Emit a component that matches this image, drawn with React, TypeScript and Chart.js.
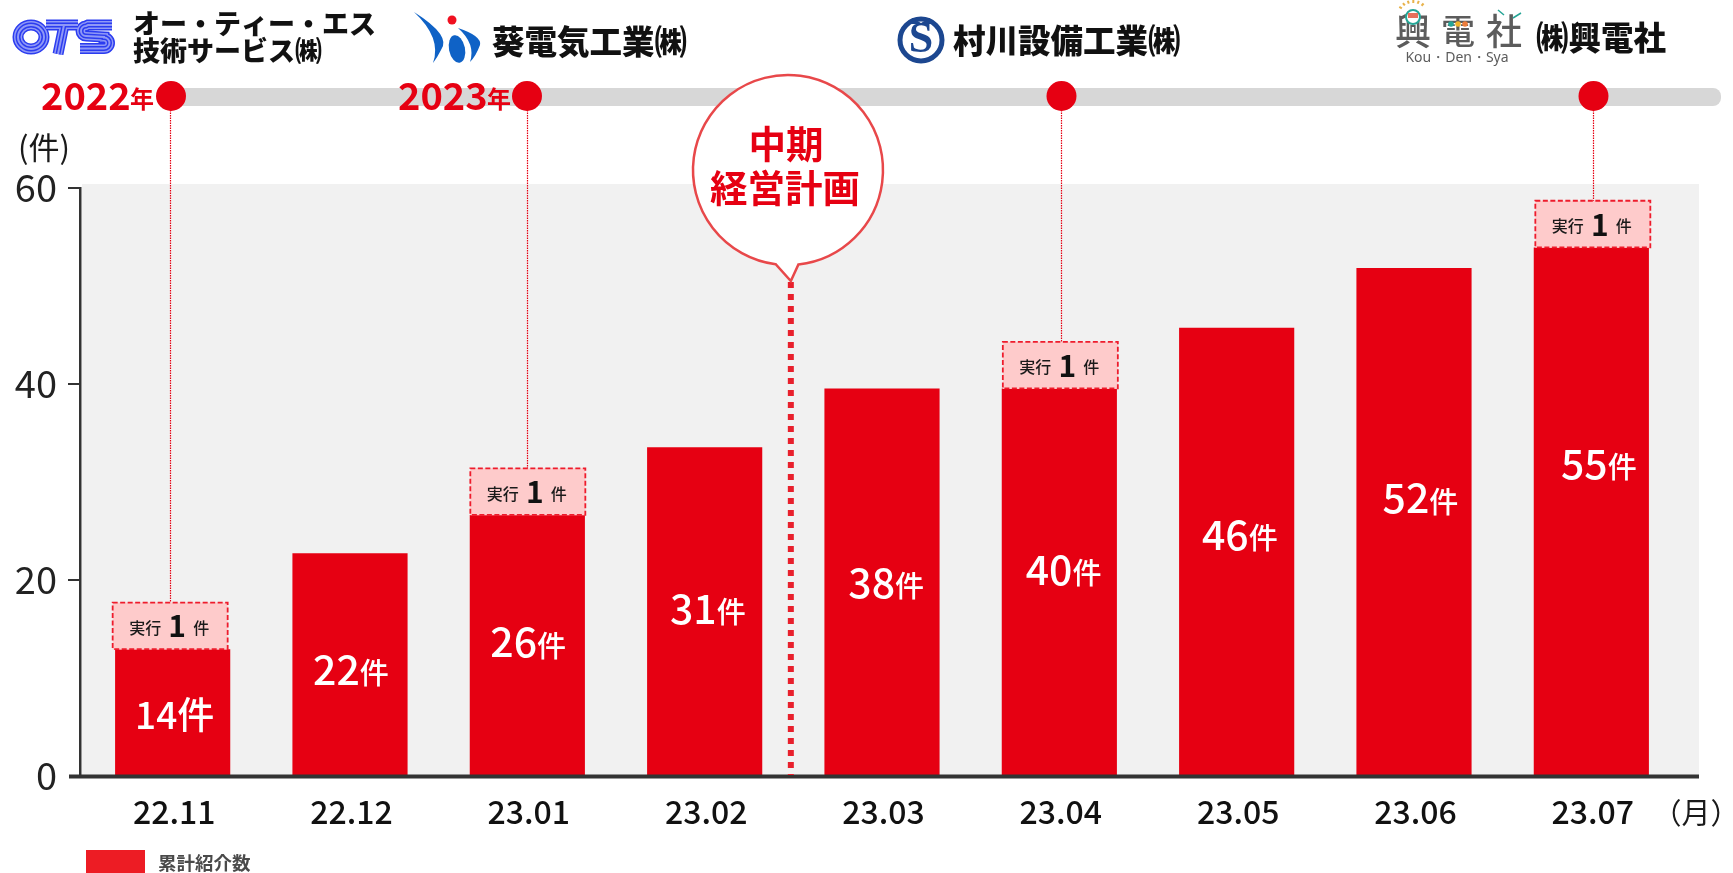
import React, { useEffect, useRef } from "react";
import { Chart, registerables } from "chart.js";

Chart.register(...registerables);

const categories = ["22.11", "22.12", "23.01", "23.02", "23.03", "23.04", "23.05", "23.06", "23.07"];
const cumulative = [12.9, 22.7, 26.6, 33.5, 39.5, 39.5, 45.7, 51.8, 53.9];
const executed = [4.8, 0, 4.8, 0, 0, 4.8, 0, 0, 4.8];
const barLabels = ["14", "22", "26", "31", "38", "40", "46", "52", "55"];
const yTicks = [0, 20, 40, 60];

const JP = '"Noto Sans CJK JP", "Noto Sans", sans-serif';
const RED = "#e60012";

// Where each value caption sits: height in axis units, nudge in pixels.
const captionHeight = [6.2, 10.9, 13.7, 17.1, 19.8, 21.1, 24.7, 28.4, 31.9];
const captionNudge = [0, -1, -1, 1, 2, 2, 1, 4, 5];
const boxNudge: Record<number, number> = { 0: -2.5, 2: 0.5, 5: 1, 8: 1.5 };

function txt(ctx: any, s: string, x: number, y: number, font: string, color: string, align: any = "left") {
  ctx.font = font;
  ctx.fillStyle = color;
  ctx.textAlign = align;
  ctx.textBaseline = "middle";
  ctx.fillText(s, x, y);
}

function drawOts(ctx: any) {
  ctx.save();
  ctx.lineCap = "butt";
  for (const [w, c] of [[11, "#2b3cf0"], [8, "#8f98f6"], [5, "#2b3cf0"], [2, "#8f98f6"]] as any) {
    ctx.lineWidth = w;
    ctx.strokeStyle = c;
    ctx.beginPath();
    ctx.ellipse(31, 37, 13, 12, 0, 0, Math.PI * 2);
    ctx.stroke();
    ctx.beginPath();
    ctx.moveTo(46, 25);
    ctx.lineTo(78, 25);
    ctx.moveTo(64, 25);
    ctx.lineTo(58, 54);
    ctx.stroke();
    ctx.beginPath();
    ctx.moveTo(112, 25);
    ctx.lineTo(88, 25);
    ctx.arc(86, 31, 5, -Math.PI / 2, Math.PI / 2, true);
    ctx.lineTo(104, 37);
    ctx.arc(104, 43, 5.5, -Math.PI / 2, Math.PI / 2);
    ctx.lineTo(80, 48.5);
    ctx.stroke();
  }
  ctx.restore();
}

function drawAoi(ctx: any) {
  ctx.save();
  ctx.fillStyle = "#0f62c6";
  ctx.beginPath();
  ctx.moveTo(414, 12);
  ctx.quadraticCurveTo(452, 36, 441, 50);
  ctx.quadraticCurveTo(437, 58, 433, 63);
  ctx.quadraticCurveTo(442, 38, 414, 12);
  ctx.fill();
  ctx.beginPath();
  ctx.ellipse(457, 49, 8, 14, -0.2, 0, Math.PI * 2);
  ctx.fill();
  ctx.beginPath();
  ctx.moveTo(458, 28);
  ctx.quadraticCurveTo(482, 36, 480, 45);
  ctx.quadraticCurveTo(476, 56, 470, 62);
  ctx.quadraticCurveTo(476, 44, 458, 28);
  ctx.fill();
  ctx.fillStyle = "#f01020";
  ctx.beginPath();
  ctx.arc(452, 20, 4.5, 0, Math.PI * 2);
  ctx.fill();
  ctx.restore();
}

function drawMurakawa(ctx: any) {
  ctx.save();
  ctx.strokeStyle = "#1c4790";
  ctx.lineWidth = 5;
  ctx.beginPath();
  ctx.arc(921, 40, 21, 0, Math.PI * 2);
  ctx.stroke();
  ctx.fillStyle = "#1c4790";
  ctx.beginPath();
  ctx.moveTo(912, 18);
  ctx.lineTo(921, 23);
  ctx.lineTo(930, 18);
  ctx.lineTo(930, 24);
  ctx.lineTo(912, 24);
  ctx.fill();
  txt(ctx, "S", 921, 41, 'bold 44px "Liberation Serif", serif', "#1c4790", "center");
  ctx.restore();
}

function drawKouden(ctx: any) {
  ctx.save();
  ctx.strokeStyle = "#e8b24a";
  ctx.lineWidth = 2;
  for (let a = -2.6; a <= -0.5; a += 0.35) {
    ctx.beginPath();
    ctx.moveTo(1413 + 13 * Math.cos(a), 14 + 11 * Math.sin(a));
    ctx.lineTo(1413 + 16 * Math.cos(a), 14 + 14 * Math.sin(a));
    ctx.stroke();
  }
  txt(ctx, "興", 1413, 31, '500 36px "Noto Sans CJK JP"', "#5c5c5c", "center");
  txt(ctx, "電", 1458, 31, '500 34px "Noto Sans CJK JP"', "#5c5c5c", "center");
  txt(ctx, "社", 1504, 31, '500 36px "Noto Sans CJK JP"', "#5c5c5c", "center");
  ctx.strokeStyle = "#25a596";
  ctx.beginPath();
  ctx.arc(1413, 17, 7, 0, Math.PI * 2);
  ctx.fillStyle = "#ffffff";
  ctx.fill();
  ctx.stroke();
  ctx.fillStyle = "#e8705c";
  ctx.fillRect(1408, 13, 10, 5);
  for (const [cx, c] of [[1451, "#25a596"], [1458, "#f0b429"], [1465, "#ee7d3b"]] as any) {
    ctx.fillStyle = c;
    ctx.beginPath();
    ctx.arc(cx, 24, 2.8, 0, Math.PI * 2);
    ctx.fill();
  }
  ctx.strokeStyle = "#25a596";
  ctx.lineWidth = 1.5;
  ctx.beginPath();
  ctx.moveTo(1498, 10);
  ctx.lineTo(1504, 15);
  ctx.moveTo(1513, 18);
  ctx.lineTo(1521, 13);
  ctx.stroke();
  txt(ctx, "Kou・Den・Sya", 1457, 58, '400 14px "Noto Sans", sans-serif', "#5c5c5c", "center");
  ctx.restore();
}

const bgPlugin = {
  id: "bg",
  beforeDraw(chart: any) {
    const { ctx } = chart;
    const y = chart.scales.y;
    const x = chart.scales.x;
    ctx.save();
    ctx.fillStyle = "#f1f1f1";
    ctx.fillRect(x.left - 2, y.getPixelForValue(60) - 4, x.right + 19 - (x.left - 2), y.getPixelForValue(0) - y.getPixelForValue(60) + 4);
    ctx.fillStyle = "#d7d7d7";
    ctx.beginPath();
    ctx.roundRect(160, 88, 1561, 18, 8);
    ctx.fill();
    ctx.restore();
  },
};

const overlayPlugin = {
  id: "overlay",
  afterDraw(chart: any) {
    const { ctx } = chart;
    const x = chart.scales.x;
    const y = chart.scales.y;
    const bars = chart.getDatasetMeta(0).data;
    ctx.save();

    // axes
    const y0 = y.getPixelForValue(0);
    ctx.fillStyle = "#333333";
    ctx.fillRect(79, y.getPixelForValue(60) - 1, 2.5, y0 - y.getPixelForValue(60) + 1);
    yTicks.forEach((t) => {
      const p = y.getPixelForValue(t);
      if (t === 0) ctx.fillRect(69, p - 1.5, 1630, 4);
      else ctx.fillRect(68, p - 1, 12, 2);
    });

    // executed boxes
    executed.forEach((v, i) => {
      if (!v) return;
      const top = y.getPixelForValue(cumulative[i] + v);
      const bottom = y.getPixelForValue(cumulative[i]);
      const w = 115;
      const left = bars[i].x - w / 2 + (boxNudge[i] || 0);
      ctx.fillStyle = "#fecbcb";
      ctx.fillRect(left, top, w, bottom - top);
      ctx.strokeStyle = "#ee1c2c";
      ctx.lineWidth = 1.8;
      ctx.setLineDash([5, 2.5]);
      ctx.strokeRect(left, top, w, bottom - top - 0.5);
      ctx.setLineDash([]);
      const cx = left + w / 2;
      const cy = (top + bottom) / 2 + 1;
      txt(ctx, "実行", cx - 25, cy + 1, `500 16px ${JP}`, "#1a1a1a", "center");
      txt(ctx, "1", cx + 7, cy - 1, `700 30px ${JP}`, "#111111", "center");
      txt(ctx, "件", cx + 31, cy + 1, `500 16px ${JP}`, "#1a1a1a", "center");
    });

    // timeline dots and dotted droplines
    const droplines = [
      { i: 0, dx: 171 },
      { i: 2, dx: 527 },
      { i: 5, dx: 1061.5 },
      { i: 8, dx: 1593.5 },
    ];
    droplines.forEach(({ i, dx }) => {
      const top = y.getPixelForValue(cumulative[i] + executed[i]);
      const lx = Math.floor(dx) - (i === 0 ? 1 : 0) + 0.5;
      ctx.strokeStyle = RED;
      ctx.lineWidth = 1.2;
      ctx.setLineDash([1.5, 1]);
      ctx.beginPath();
      ctx.moveTo(lx, 110);
      ctx.lineTo(lx, top);
      ctx.stroke();
      ctx.setLineDash([]);
      ctx.fillStyle = RED;
      ctx.beginPath();
      ctx.arc(dx, 96, 15, 0, Math.PI * 2);
      ctx.fill();
    });

    // year labels
    txt(ctx, "2022", 41, 96, `700 38px ${JP}`, RED);
    txt(ctx, "年", 130, 99, `700 24px ${JP}`, RED);
    txt(ctx, "2023", 398, 96, `700 38px ${JP}`, RED);
    txt(ctx, "年", 487, 99, `700 24px ${JP}`, RED);

    // mid-term plan marker
    const mid = (x.getPixelForValue(3) + x.getPixelForValue(4)) / 2 - 2.5;
    ctx.strokeStyle = "#e8202c";
    ctx.lineWidth = 6;
    ctx.setLineDash([6, 6]);
    ctx.beginPath();
    ctx.moveTo(mid, 282);
    ctx.lineTo(mid, y0 - 1);
    ctx.stroke();
    ctx.setLineDash([]);
    const cx = 788;
    const cy = 170;
    const r = 95;
    ctx.beginPath();
    const a1 = Math.PI / 2 + 0.13;
    const a2 = Math.PI / 2 - 0.11;
    ctx.arc(cx, cy, r, a1, a2 + Math.PI * 2);
    ctx.lineTo(mid, 281);
    ctx.closePath();
    ctx.fillStyle = "#ffffff";
    ctx.fill();
    ctx.strokeStyle = "#e8484a";
    ctx.lineWidth = 2.5;
    ctx.stroke();
    txt(ctx, "中期", 786, 144, `700 37.5px ${JP}`, RED, "center");
    txt(ctx, "経営計画", 785, 188, `700 37.5px ${JP}`, RED, "center");

    // value labels
    barLabels.forEach((s, i) => {
      const px = bars[i].x + captionNudge[i] * 1.1;
      const py = y.getPixelForValue(captionHeight[i]);
      const big = i === 0 ? 37 : 41;
      const small = i === 0 ? 37 : 29;
      ctx.font = `500 ${big}px ${JP}`;
      const w1 = ctx.measureText(s).width;
      ctx.font = `500 ${small}px ${JP}`;
      const w2 = ctx.measureText("件").width;
      const start = px - (w1 + w2) / 2 + 2;
      txt(ctx, s, start, py, `500 ${big}px ${JP}`, "#ffffff");
      txt(ctx, "件", start + w1, py + (i === 0 ? 0 : 4), `500 ${small}px ${JP}`, "#ffffff");
    });

    // unit texts
    txt(ctx, "(件)", 18, 147, `400 31px ${JP}`, "#1a1a1a");
    txt(ctx, "（月）", 1696, 813, `400 29px ${JP}`, "#1a1a1a", "center");

    // legend
    ctx.fillStyle = "#ed1c24";
    ctx.fillRect(86, 850, 59, 23);
    txt(ctx, "累計紹介数", 158, 863, `700 18.5px ${JP}`, "#4a4a4a");

    // companies
    drawOts(ctx);
    txt(ctx, "オー・ティー・エス", 133, 24, `900 27px ${JP}`, "#111111");
    txt(ctx, "技術サービス㈱", 133, 51, `900 27px ${JP}`, "#111111");
    drawAoi(ctx);
    txt(ctx, "葵電気工業㈱", 492, 42, `900 32.5px ${JP}`, "#111111");
    drawMurakawa(ctx);
    txt(ctx, "村川設備工業㈱", 953, 41, `900 32.5px ${JP}`, "#111111");
    drawKouden(ctx);
    txt(ctx, "㈱興電社", 1536, 38, `900 32.5px ${JP}`, "#111111");

    ctx.restore();
  },
};

export default function App() {
  const ref = useRef<HTMLCanvasElement | null>(null);
  useEffect(() => {
    if (!ref.current) return;
    const chart = new Chart(ref.current, {
      type: "bar",
      data: {
        labels: categories,
        datasets: [
          {
            label: "累計紹介数",
            data: cumulative,
            backgroundColor: RED,
            barThickness: 114.5,
          },
        ],
      },
      options: {
        responsive: false,
        animation: false,
        layout: { padding: { top: 188, right: 53, left: 0, bottom: 0 } },
        plugins: { legend: { display: false }, tooltip: { enabled: false } },
        scales: {
          x: {
            grid: { display: false },
            border: { display: false },
            afterFit(s: any) {
              s.height = 97;
            },
            ticks: {
              font: { family: JP, size: 32, weight: "500" },
              color: "#111111",
              padding: 9,
              labelOffset: 1.5,
              maxRotation: 0,
            },
          },
          y: {
            min: 0,
            max: 60,
            grid: { display: false },
            border: { display: false },
            afterFit(s: any) {
              s.width = 84;
            },
            afterBuildTicks(s: any) {
              s.ticks = yTicks.map((value) => ({ value }));
            },
            ticks: {
              font: { family: JP, size: 38, weight: "400" },
              color: "#222222",
              padding: 19,
            },
          },
        },
      },
      plugins: [bgPlugin, overlayPlugin],
    } as any);
    return () => chart.destroy();
  }, []);
  return (
    <div style={{ position: "fixed", left: 0, top: 0, width: 1733, height: 873, background: "#fff" }}>
      <canvas ref={ref} width={1733} height={873} style={{ display: "block" }} />
    </div>
  );
}
